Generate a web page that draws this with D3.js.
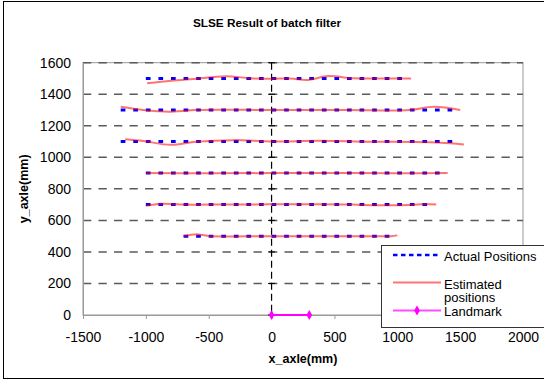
<!DOCTYPE html>
<html>
<head>
<meta charset="utf-8">
<script src="https://cdn.jsdelivr.net/npm/d3@7"></script>
<style>
  body { margin: 0; background: #fff; }
  svg { display: block; font-family: "Liberation Sans", Arial, sans-serif; }
</style>
</head>
<body>
<div id="chart"></div>
<script>
const xTicks = [-1500, -1000, -500, 0, 500, 1000, 1500, 2000];
const yTicks = [0, 200, 400, 600, 800, 1000, 1200, 1400, 1600];

// actual positions: one horizontal run per row
const actualY = [1500, 1300, 1100, 900, 700, 500];
const actualStart = [-1000, -1200, -1200, -1000, -1000, -700];
const actualEnd = [1100, 1500, 1500, 1400, 1300, 1000];

// estimated positions
const est1500 = [[-990, 1469], [-800, 1485], [-620, 1497], [-360, 1514], [-170, 1501], [0, 1498], [150, 1500], [280, 1490], [450, 1515], [650, 1501], [900, 1500], [1110, 1500]];
const est1300 = [[-1200, 1320], [-1020, 1300], [-820, 1289], [-600, 1300], [0, 1300], [600, 1300], [1100, 1300], [1290, 1320], [1500, 1300]];
const est1100 = [[-1165, 1114], [-1020, 1103], [-800, 1079], [-600, 1099], [-300, 1109], [0, 1100], [380, 1105], [780, 1099], [1260, 1095], [1530, 1082]];
const est900 = [[-1000, 900], [-500, 899], [0, 900], [500, 901], [1000, 899], [1400, 900]];
const est700 = [[-1000, 692], [-880, 705], [-780, 703], [-700, 700], [-300, 701], [300, 702], [650, 700], [720, 697], [1100, 698], [1220, 704], [1310, 700]];
const est500 = [[-700, 500], [-640, 509], [-580, 511], [-500, 501], [0, 500], [500, 500], [850, 499], [950, 500], [1000, 505]];
const estimated = [est1500, est1300, est1100, est900, est700, est500];

const landmarkX = [0, 300];
const landmarkY = [0, 0];

const width = 544, height = 379;
const svg = d3.select('#chart').append('svg')
  .attr('width', width)
  .attr('height', height);

// outer chart frame
svg.append('rect')
  .attr('x', 3.5).attr('y', 1.5)
  .attr('width', 600).attr('height', 377)
  .attr('fill', '#fff')
  .attr('stroke', '#000');

const xScale = d3.scaleLinear().domain([-1500, 2000]).range([83, 523]);
const yScale = d3.scaleLinear().domain([0, 1600]).range([315, 62.7]);
const plain = d => String(d);

// title
svg.append('text')
  .attr('x', 267).attr('y', 27)
  .attr('text-anchor', 'middle')
  .attr('font-size', 11.8)
  .attr('font-weight', 'bold')
  .text('SLSE Result of batch filter');

// plot frame
svg.append('rect')
  .attr('x', xScale(-1500)).attr('y', yScale(1600))
  .attr('width', xScale(2000) - xScale(-1500))
  .attr('height', yScale(0) - yScale(1600))
  .attr('fill', 'none')
  .attr('stroke', '#999');

// gridlines
svg.append('g')
  .selectAll('line').data(yTicks.filter(d => d > 0)).join('line')
    .attr('x1', xScale(-1500)).attr('x2', xScale(2000))
    .attr('y1', d => yScale(d)).attr('y2', d => yScale(d))
    .attr('stroke', '#5a5a5a')
    .attr('stroke-width', 1.5)
    .attr('stroke-dasharray', '8.3,7.2');

// x axis (bottom)
const xAxis = d3.axisBottom(xScale).tickValues(xTicks).tickFormat(plain).tickSize(4).tickPadding(13);
const xAxisG = svg.append('g')
  .attr('transform', `translate(0, ${yScale(0)})`)
  .call(xAxis);
xAxisG.select('.domain').attr('stroke', '#999');
xAxisG.selectAll('line').attr('stroke', '#999');
xAxisG.selectAll('text')
  .attr('font-size', 14)
  .attr('fill', '#000')
  .attr('font-family', '"Liberation Sans", Arial, sans-serif');

// y labels (low position, at the left of the frame)
const yAxis = d3.axisLeft(yScale).tickValues(yTicks).tickFormat(plain).tickSize(0).tickPadding(12);
const yAxisG = svg.append('g')
  .attr('transform', `translate(${xScale(-1500)}, 0)`)
  .call(yAxis);
yAxisG.select('.domain').attr('stroke', '#999');
yAxisG.selectAll('text')
  .attr('font-size', 14)
  .attr('fill', '#000')
  .attr('font-family', '"Liberation Sans", Arial, sans-serif');

// value axis crossing at x = 0
svg.append('line')
  .attr('x1', xScale(0)).attr('x2', xScale(0))
  .attr('y1', yScale(1600)).attr('y2', yScale(0))
  .attr('stroke', '#000')
  .attr('stroke-width', 1.2)
  .attr('stroke-dasharray', '7,4');
svg.append('g')
  .selectAll('line').data(yTicks).join('line')
    .attr('x1', xScale(0) - 3.5).attr('x2', xScale(0) + 3.5)
    .attr('y1', d => yScale(d)).attr('y2', d => yScale(d))
    .attr('stroke', '#000');

// axis titles
svg.append('text')
  .attr('x', 303).attr('y', 363)
  .attr('text-anchor', 'middle')
  .attr('font-size', 12.5)
  .attr('font-weight', 'bold')
  .text('x_axle(mm)');
svg.append('text')
  .attr('transform', `translate(28, ${(yScale(0) + yScale(1600)) / 2}) rotate(-90)`)
  .attr('text-anchor', 'middle')
  .attr('font-size', 12.5)
  .attr('font-weight', 'bold')
  .text('y_axle(mm)');

// actual positions
svg.append('g')
  .selectAll('line').data(actualY).join('line')
    .attr('x1', (d, i) => xScale(actualStart[i]))
    .attr('x2', (d, i) => xScale(actualEnd[i]))
    .attr('y1', d => yScale(d)).attr('y2', d => yScale(d))
    .attr('stroke', '#0000ff')
    .attr('stroke-width', 3)
    .attr('stroke-dasharray', '4.7,7.87');

// estimated positions
const line = d3.line()
  .x(d => xScale(d[0]))
  .y(d => yScale(d[1]))
  .curve(d3.curveCatmullRom);
svg.append('g')
  .selectAll('path').data(estimated).join('path')
    .attr('d', line)
    .attr('fill', 'none')
    .attr('stroke', '#ff0000')
    .attr('stroke-opacity', 0.55)
    .attr('stroke-width', 2);

// landmark
const lm = landmarkX.map((x, i) => [x, landmarkY[i]]);
svg.append('path')
  .attr('d', d3.line().x(d => xScale(d[0])).y(d => yScale(d[1]))(lm))
  .attr('fill', 'none')
  .attr('stroke', '#ff00ff')
  .attr('stroke-width', 2);
const diamond = d3.symbol().type(d3.symbolDiamond).size(28);
svg.append('g')
  .selectAll('path').data(lm).join('path')
    .attr('d', diamond)
    .attr('transform', d => `translate(${xScale(d[0])}, ${yScale(d[1])})`)
    .attr('fill', '#ff00ff');

// legend
const legend = svg.append('g');
legend.append('rect')
  .attr('x', 381.5).attr('y', 245.5)
  .attr('width', 200).attr('height', 82)
  .attr('fill', '#fff')
  .attr('stroke', '#333');
legend.append('line')
  .attr('x1', 393).attr('x2', 441).attr('y1', 255).attr('y2', 255)
  .attr('stroke', '#0000ff').attr('stroke-width', 2.5)
  .attr('stroke-dasharray', '4.5,3.5');
legend.append('line')
  .attr('x1', 393).attr('x2', 441).attr('y1', 282.5).attr('y2', 282.5)
  .attr('stroke', '#ff0000').attr('stroke-opacity', 0.55).attr('stroke-width', 2);
legend.append('line')
  .attr('x1', 393).attr('x2', 441).attr('y1', 310.5).attr('y2', 310.5)
  .attr('stroke', '#ff00ff').attr('stroke-opacity', 0.7).attr('stroke-width', 2);
legend.append('path')
  .attr('d', diamond)
  .attr('transform', 'translate(417, 310.5)')
  .attr('fill', '#ff00ff');
const legendText = [['Actual Positions', 260.5], ['Estimated', 288.5], ['positions', 302], ['Landmark', 316]];
legend.selectAll('text').data(legendText).join('text')
  .attr('x', 444).attr('y', d => d[1])
  .attr('font-size', 13)
  .text(d => d[0]);
</script>
</body>
</html>
